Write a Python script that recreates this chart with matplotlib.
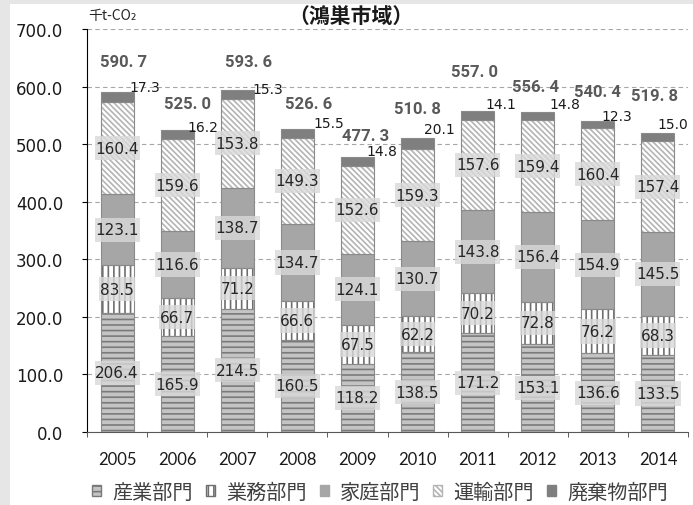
import numpy as np
import matplotlib
matplotlib.use('Agg')
import matplotlib.pyplot as plt
from matplotlib.patches import Patch, Rectangle
from matplotlib.path import Path

years = ['2005', '2006', '2007', '2008', '2009', '2010', '2011', '2012', '2013', '2014']
industry = [206.4, 165.9, 214.5, 160.5, 118.2, 138.5, 171.2, 153.1, 136.6, 133.5]
business = [83.5, 66.7, 71.2, 66.6, 67.5, 62.2, 70.2, 72.8, 76.2, 68.3]
household = [123.1, 116.6, 138.7, 134.7, 124.1, 130.7, 143.8, 156.4, 154.9, 145.5]
transport = [160.4, 159.6, 153.8, 149.3, 152.6, 159.3, 157.6, 159.4, 160.4, 157.4]
waste = [17.3, 16.2, 15.3, 15.5, 14.8, 20.1, 14.1, 14.8, 12.3, 15.0]
totals = [590.7, 525.0, 593.6, 526.6, 477.3, 510.8, 557.0, 556.4, 540.4, 519.8]
sector_names = ['産業部門', '業務部門', '家庭部門', '運輸部門', '廃棄物部門']

# label offsets in pixels from the top of each bar (layout only)
total_off = [(7, 30), (10, 26), (11, 29), (11, 25), (8, 22), (0, 29), (-3, 40), (-2, 25), (0, 29), (-3, 37)]
waste_off = [(28, 5), (26, 3), (31, 1), (31, 6), (24, 6), (22, 9), (23, 7), (27, 8), (19, 5), (15, 9)]

plt.rcParams['hatch.linewidth'] = 1.2
cjk = ['Noto Sans CJK JP', 'DejaVu Sans']

# (face, hatch, hatch colour)
styles = [('#c4c4c4', '---', '#7a7a7a'),
          ('white', '|||', '#6e6e6e'),
          ('#a6a6a6', '', '#a6a6a6'),
          ('white', '\\\\\\\\\\\\', '#b4b4b4'),
          ('#7f7f7f', '', '#7f7f7f')]
series = [industry, business, household, transport, waste]


def band(x0, y0, w, h, m):
    # label background: tight sideways, taller up and down
    px, py = 0.05 * m, 0.3 * m
    x0, y0, w, h = x0 - px, y0 - py, w + 2 * px, h + 2 * py
    return Path([(x0, y0), (x0 + w, y0), (x0 + w, y0 + h), (x0, y0 + h), (x0, y0)], closed=True)


fig = plt.figure(figsize=(6.93, 5.06), dpi=100)
fig.patch.set_facecolor('#e6e6e6')
fig.add_artist(Rectangle((10 / 693, 0), 1, 1 - 5 / 506, transform=fig.transFigure,
                         facecolor='white', edgecolor='none', zorder=-5))
ax = fig.add_axes([87 / 693, 1 - 433 / 506, 601 / 693, 403 / 506])
ax.set_facecolor('none')

x = np.arange(len(years))
w = 0.55
bottom = np.zeros(len(years))
for vals, (fc, hatch, hc) in zip(series, styles):
    vals = np.array(vals)
    ax.bar(x, vals, w, bottom=bottom, color=fc, hatch=hatch, edgecolor=hc, linewidth=0, zorder=2)
    ax.bar(x, vals, w, bottom=bottom, fill=False, edgecolor='#8a8a8a', linewidth=0.8, zorder=3)
    bottom += vals

# segment labels (all but waste)
bottom = np.zeros(len(years))
for vals in series[:4]:
    for i, v in enumerate(vals):
        ax.text(i, bottom[i] + v / 2, f'{v:.1f}', ha='center', va='center', fontsize=11,
                color='#262626', zorder=5,
                bbox=dict(boxstyle=band, facecolor='#d9d9d9', alpha=0.8, edgecolor='none'))
    bottom += np.array(vals)

for i in range(len(years)):
    ax.annotate(f'{totals[i]:.1f}'.replace('.', '. '), xy=(i, totals[i]), xytext=total_off[i],
                textcoords='offset pixels', ha='center', va='center', fontsize=12,
                fontweight='bold', family=['Roboto', 'DejaVu Sans'],
                color='#595959', zorder=6)
    ax.annotate(f'{waste[i]:.1f}', xy=(i, totals[i]), xytext=waste_off[i],
                textcoords='offset pixels', ha='center', va='center', fontsize=10,
                color='#1a1a1a', zorder=6)

ax.set_xlim(-0.5, len(years) - 0.5)
ax.set_ylim(0, 700)
ax.set_yticks(np.arange(0, 701, 100))
ax.set_yticklabels([f'{t:.1f}' for t in np.arange(0, 701, 100)], fontsize=12, color='#1a1a1a')
ax.tick_params(axis='y', length=3.6, pad=13.5, color='black')
ax.set_xticks(x)
ax.set_xticklabels(years, fontsize=12, family=['Lato', 'DejaVu Sans'], color='#1a1a1a')
ax.set_xticks(np.arange(-0.5, len(years)), minor=True)
ax.tick_params(axis='x', which='major', length=0, pad=14)
ax.tick_params(axis='x', which='minor', length=3.6, color='#404040')
ax.grid(axis='y', color='#a6a6a6', linestyle=(0, (4, 3)), linewidth=0.8, zorder=0)
ax.set_axisbelow(True)
for s in ['top', 'right']:
    ax.spines[s].set_visible(False)
ax.spines['left'].set_color('black')
ax.spines['bottom'].set_color('#595959')

fig.text(88 / 693, 1 - 16 / 506, '千t-CO₂', fontsize=10, family=cjk, color='#262626',
         ha='left', va='center')
fig.text(351 / 693, 1 - 17 / 506, '（鴻巣市域）', fontsize=15, fontweight='bold', family=cjk,
         ha='center', va='center', color='#1a1a1a')

handles = [Patch(facecolor=fc, hatch=h, edgecolor=hc) for fc, h, hc in styles]
leg = fig.legend(handles, sector_names, loc='center', bbox_to_anchor=(380 / 693, 1 - 493 / 506),
                 ncol=5, frameon=False, handlelength=0.45, handleheight=0.45, handletextpad=0.55,
                 columnspacing=0.65, prop={'family': cjk, 'size': 14.5})
for t in leg.get_texts():
    t.set_color('#404040')

fig.savefig('out.png', dpi=100, facecolor=fig.get_facecolor())
